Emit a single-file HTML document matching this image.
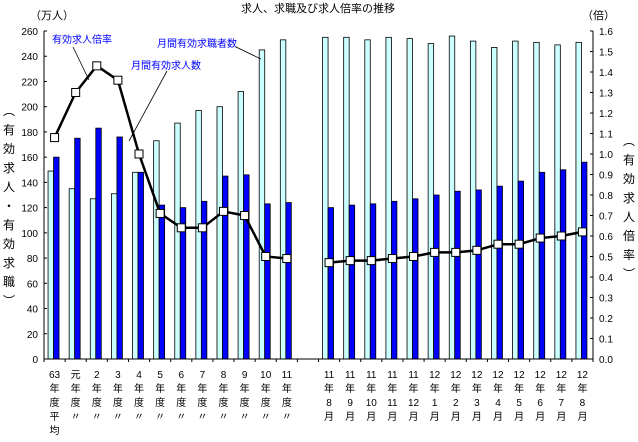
<!DOCTYPE html>
<html><head><meta charset="utf-8"><style>
body{margin:0;background:#fff;}
svg text{font-family:"Liberation Sans","Noto Sans CJK JP",sans-serif;}
</style></head><body>
<svg id="chart" width="638" height="437" viewBox="0 0 638 437" xmlns="http://www.w3.org/2000/svg">
<text x="318" y="12" font-size="11" text-anchor="middle">求人、求職及び求人倍率の推移</text>
<text x="30" y="19" font-size="11">（万人）</text>
<text x="582" y="19" font-size="11">（倍）</text>
<text x="9" y="115" font-size="12" text-anchor="middle"><tspan x="9" dy="0">︵</tspan><tspan x="9" dy="19">有</tspan><tspan x="9" dy="19">効</tspan><tspan x="9" dy="19">求</tspan><tspan x="9" dy="19">人</tspan><tspan x="9" dy="19">・</tspan><tspan x="9" dy="19">有</tspan><tspan x="9" dy="19">効</tspan><tspan x="9" dy="19">求</tspan><tspan x="9" dy="19">職</tspan><tspan x="9" dy="19">︶</tspan></text>
<text x="629" y="145" font-size="12" text-anchor="middle"><tspan x="629" dy="0">︵</tspan><tspan x="629" dy="19">有</tspan><tspan x="629" dy="19">効</tspan><tspan x="629" dy="19">求</tspan><tspan x="629" dy="19">人</tspan><tspan x="629" dy="19">倍</tspan><tspan x="629" dy="19">率</tspan><tspan x="629" dy="19">︶</tspan></text>
<g id="plot"></g>
<text x="52" y="43" font-size="10" fill="#0000ff">有効求人倍率</text>
<text x="157" y="47" font-size="10" fill="#0000ff">月間有効求職者数</text>
<text x="131" y="69" font-size="10" fill="#0000ff">月間有効求人数</text>
<line x1="73" y1="47" x2="89" y2="80" stroke="#000" stroke-width="0.8"/>
<line x1="236" y1="47" x2="261" y2="59" stroke="#000" stroke-width="0.8"/>
<line x1="167" y1="71" x2="129" y2="141" stroke="#000" stroke-width="0.8"/>
</svg>
<script>
const labels=[["63","年","度","平","均"],["元","年","度","〃"],["2","年","度","〃"],["3","年","度","〃"],["4","年","度","〃"],["5","年","度","〃"],["6","年","度","〃"],["7","年","度","〃"],["8","年","度","〃"],["9","年","度","〃"],["10","年","度","〃"],["11","年","度","〃"],null,
["11","年","8","月"],["11","年","9","月"],["11","年","10","月"],["11","年","11","月"],["11","年","12","月"],["12","年","1","月"],["12","年","2","月"],["12","年","3","月"],["12","年","4","月"],["12","年","5","月"],["12","年","6","月"],["12","年","7","月"],["12","年","8","月"]];
const seekers=[149,135,127,131,148,173,187,197,200,212,245,253,null,255,255,253,255,254,250,256,252,247,252,251,249,251];
const openings=[160,175,183,176,148,122,120,125,145,146,123,124,null,120,122,123,125,127,130,133,134,137,141,148,150,156];
const ratio=[1.08,1.30,1.43,1.36,1.00,0.71,0.64,0.64,0.72,0.70,0.50,0.49,null,0.47,0.48,0.48,0.49,0.50,0.52,0.52,0.53,0.56,0.56,0.59,0.60,0.62];
const leftTicks=[0,20,40,60,80,100,120,140,160,180,200,220,240,260];
const rightTicks=[0,0.1,0.2,0.3,0.4,0.5,0.6,0.7,0.8,0.9,1.0,1.1,1.2,1.3,1.4,1.5,1.6];
const X0=44,X1=593,Y0=359,Y1=31,N=labels.length,slot=(X1-X0)/N;
const yL=v=>Y0-(v/260)*(Y0-Y1);
const yR=v=>Y0-(v/1.6)*(Y0-Y1);
const cx=i=>X0+(i+0.5)*slot;
const g=document.getElementById('plot');const NS='http://www.w3.org/2000/svg';
function mk(t,a){const e=document.createElementNS(NS,t);for(const k in a)e.setAttribute(k,a[k]);g.appendChild(e);return e;}
// bars
seekers.forEach((v,i)=>{if(v==null)return;const r=mk('rect',{x:cx(i)-6.5,y:yL(v),width:5.5,height:Y0-yL(v),fill:'#ccffff',stroke:'#000','stroke-width':0.8});

});
openings.forEach((v,i)=>{if(v==null)return;const r=mk('rect',{x:cx(i)-1,y:yL(v),width:5.5,height:Y0-yL(v),fill:'#0000ff',stroke:'#000','stroke-width':0.8});

});
// axes
let a=mk('line',{x1:X0,y1:Y1,x2:X0,y2:Y0,stroke:'#000'});


a=mk('line',{x1:X1,y1:Y1,x2:X1,y2:Y0,stroke:'#000'});


a=mk('line',{x1:X0,y1:Y0,x2:X1,y2:Y0,stroke:'#000'});


leftTicks.forEach(v=>{mk('line',{x1:X0,y1:yL(v),x2:X0+3,y2:yL(v),stroke:'#000'});
const t=mk('text',{x:38,y:yL(v)+4,'font-size':10,'text-anchor':'end'});t.textContent=v;

});
rightTicks.forEach(v=>{mk('line',{x1:X1-3,y1:yR(v),x2:X1,y2:yR(v),stroke:'#000'});
const t=mk('text',{x:599,y:yR(v)+4,'font-size':10});t.textContent=v.toFixed(1);

});
for(let i=0;i<=N;i++)mk('line',{x1:X0+i*slot,y1:Y0,x2:X0+i*slot,y2:Y0+3,stroke:'#000'});
labels.forEach((l,i)=>{if(!l)return;const t=mk('text',{x:cx(i),y:378,'font-size':10,'text-anchor':'middle'});


l.forEach((s,j)=>{const sp=document.createElementNS(NS,'tspan');sp.setAttribute('x',cx(i));sp.setAttribute('dy',j?14:0);sp.textContent=s;t.appendChild(sp);});});
// ratio line (two segments)
function seg(from,to){const pts=[];for(let i=from;i<=to;i++)pts.push(cx(i)+','+yR(ratio[i]));
const p=mk('polyline',{points:pts.join(' '),fill:'none',stroke:'#000','stroke-width':2.5});

}
seg(0,11);seg(13,25);
ratio.forEach((v,i)=>{if(v==null)return;const m=mk('rect',{x:cx(i)-4,y:yR(v)-4,width:8,height:8,fill:'#fff',stroke:'#000','stroke-width':1});

});
</script>
</body></html>
